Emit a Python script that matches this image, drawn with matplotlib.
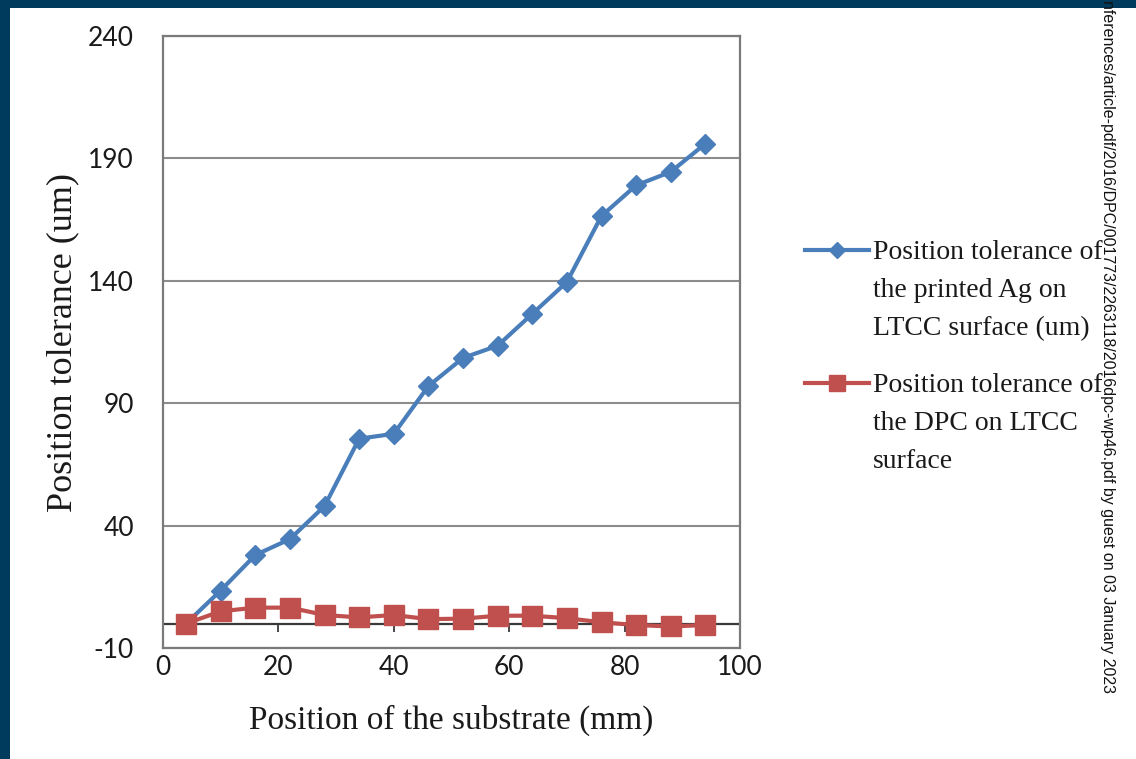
import matplotlib
matplotlib.use('Agg')
import matplotlib.pyplot as plt
from matplotlib.lines import Line2D
from matplotlib.patches import Rectangle

plt.rcParams['axes.unicode_minus'] = False

# values
position_mm = [4, 10, 16, 22, 28, 34, 40, 46, 52, 58, 64, 70, 76, 82, 88, 94]
printed_ag_um = [0, 13.5, 28, 34.5, 48, 75.5, 77.5, 97, 108.5, 113.5,
                 126.5, 139.5, 166.5, 179, 184.5, 196]
dpc_um = [0, 5, 6.5, 6.5, 3.5, 2.5, 3.5, 1.8, 2, 3.2, 3.2, 2.2,
          0.5, -0.6, -1.2, -0.6]

x_ticks = [0, 20, 40, 60, 80, 100]
y_ticks = [-10, 40, 90, 140, 190, 240]

label_ag = ['Position tolerance of', 'the printed Ag on', 'LTCC surface (um)']
label_dpc = ['Position tolerance of', 'the DPC on LTCC', 'surface']

watermark = ('nferences/article-pdf/2016/DPC/001773/2263118/2016dpc-wp46.pdf'
             ' by guest on 03 January 2023')

blue = '#4a7ebb'
red = '#c0504d'
serif = 'Liberation Serif'
tick_font = 'Lato'

fig = plt.figure(figsize=(11.36, 7.59), dpi=100)
fig.patch.set_facecolor('#003a5c')
fig.add_artist(Rectangle((10 / 1136, 0), 1, (759 - 8) / 759,
                         transform=fig.transFigure, facecolor='white',
                         edgecolor='none', zorder=-1))

ax = fig.add_axes([0.1435, 0.1462, 0.5079, 0.8064])
ax.set_xlim(0, 100)
ax.set_ylim(-10, 240)
ax.set_xticks(x_ticks)
ax.set_yticks(y_ticks)
ax.tick_params(axis='both', length=0, labelsize=19, colors='#1a1a1a')
ax.tick_params(axis='y', pad=21)
ax.tick_params(axis='x', pad=5)
for lab in ax.get_xticklabels() + ax.get_yticklabels():
    lab.set_family(tick_font)

for s in ax.spines.values():
    s.set_color('#7a7a7a')
    s.set_linewidth(1.6)

ax.yaxis.grid(True, color='#8c8c8c', linewidth=1.5)
ax.set_axisbelow(True)

# zero line with its tick marks
ax.axhline(0, color='#3a3a3a', linewidth=1.6, zorder=2)
zero_axis = ax.secondary_xaxis(10 / 250)
zero_axis.set_xticks(x_ticks)
zero_axis.tick_params(length=6, width=1.3, color='#3a3a3a', labelbottom=False)
zero_axis.spines['bottom'].set_visible(False)

ln_ag, = ax.plot(position_mm, printed_ag_um, color=blue, linewidth=3,
                 marker='D', markersize=10, markeredgecolor=blue, zorder=3)
ln_dpc, = ax.plot(position_mm, dpc_um, color=red, linewidth=3,
                  marker='s', markersize=15, markeredgecolor=red, zorder=4)

ax.set_xlabel('Position of the substrate (mm)', family=serif, fontsize=24,
              color='#1a1a1a', labelpad=18)
ax.set_ylabel('Position tolerance (um)', family=serif, fontsize=26,
              color='#1a1a1a', labelpad=6)

blank = Line2D([], [], color='none')
leg_kw = dict(frameon=False, prop={'family': serif, 'size': 20},
              handlelength=2.3, handletextpad=0.15, labelspacing=0.45,
              borderpad=0, borderaxespad=0, markerscale=0.8, loc='upper left')
leg1 = fig.legend([ln_ag, blank, blank], label_ag,
                  bbox_to_anchor=(805 / 1136, (759 - 240) / 759), **leg_kw)
leg2 = fig.legend([ln_dpc, blank, blank], label_dpc,
                  bbox_to_anchor=(805 / 1136, (759 - 373) / 759), **leg_kw)
for leg in (leg1, leg2):
    for t in leg.get_texts():
        t.set_color('#1a1a1a')

fig.text(1108 / 1136, 1.0, watermark, rotation=-90, ha='center', va='top',
         fontsize=11.5, family='Liberation Sans', color='#111111')

fig.savefig('out.png', dpi=100, facecolor=fig.get_facecolor())
